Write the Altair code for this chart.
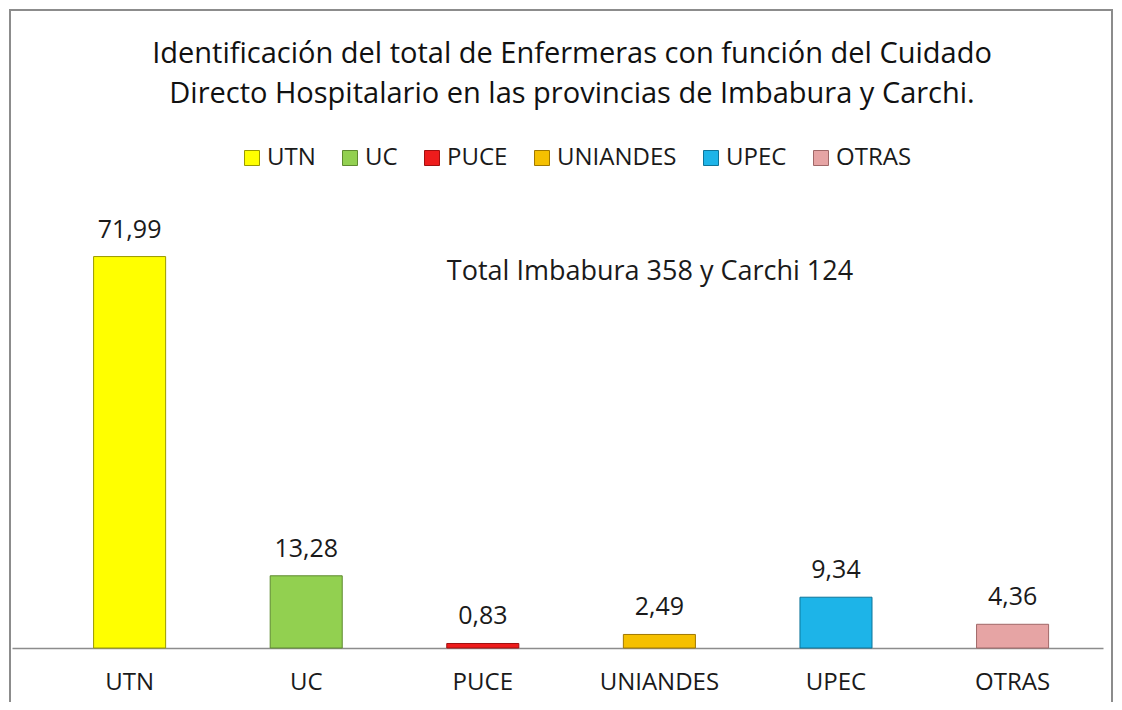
import altair as alt
import pandas as pd

categories = ["UTN", "UC", "PUCE", "UNIANDES", "UPEC", "OTRAS"]
values = [71.99, 13.28, 0.83, 2.49, 9.34, 4.36]
fill_colors = ["#FFFF00", "#92D050", "#EE1C1C", "#F5C000", "#1DB4E8", "#E6A4A4"]
stroke_colors = ["#9A9A00", "#5E8A30", "#A01010", "#A07800", "#0E7499", "#A06868"]
title_lines = [
    "Identificación del total de Enfermeras con función del Cuidado",
    "Directo Hospitalario en las provincias de Imbabura y Carchi.",
]
note_text = "Total Imbabura 358 y Carchi 124"

df = pd.DataFrame({"cat": categories, "val": values})
df["label"] = [f"{v:.2f}".replace(".", ",") for v in values]

FONT = "Open Sans"
W, H = 1091, 435

x_enc = alt.X(
    "cat:N",
    sort=categories,
    scale=alt.Scale(paddingInner=0.592, paddingOuter=0.385, align=0.6),
    axis=alt.Axis(
        title=None, labelAngle=0, ticks=False, labelFontSize=24, labelFont=FONT,
        labelColor="#1a1a1a", labelPadding=22, domainColor="#8c8c8c", domainWidth=1.5,
        grid=False,
    ),
)
y_enc = alt.Y("val:Q", scale=alt.Scale(domain=[0, 80], nice=False), axis=None)

base = alt.Chart(df)

bars = base.mark_bar(strokeWidth=1).encode(
    x=x_enc,
    y=y_enc,
    color=alt.Color(
        "cat:N",
        sort=categories,
        scale=alt.Scale(domain=categories, range=fill_colors),
        legend=alt.Legend(
            orient="none", legendX=228, legendY=-67, direction="horizontal", title=None,
            symbolType="square", symbolSize=225, labelFontSize=24, labelFont=FONT,
            labelColor="#1a1a1a", labelOffset=3, columnPadding=22,
            symbolStrokeWidth=1, symbolStrokeColor="#888888",
        ),
    ),
    stroke=alt.Stroke(
        "cat:N", sort=categories,
        scale=alt.Scale(domain=categories, range=stroke_colors), legend=None,
    ),
)

labels = base.mark_text(
    dy=-19, baseline="alphabetic", fontSize=25, font=FONT, color="#1a1a1a"
).encode(x=x_enc, y=y_enc, text="label:N")

one = alt.Chart(pd.DataFrame({"a": [0]}))

title = one.mark_text(
    text=title_lines, fontSize=29, font=FONT, color="#111111", lineHeight=40,
    baseline="alphabetic", align="center",
).encode(x=alt.value(560), y=alt.value(-150))

note = one.mark_text(
    text=note_text, fontSize=27, font=FONT, color="#1a1a1a",
    baseline="alphabetic", align="center",
).encode(x=alt.value(638), y=alt.value(67))

frame = one.mark_rect(fill="transparent", stroke="#8c8c8c", strokeWidth=2).encode(
    x=alt.value(-2), x2=alt.value(1100), y=alt.value(-203), y2=alt.value(495)
)

chart = alt.layer(frame, bars, labels, title, note).properties(
    width=W, height=H,
    autosize=alt.AutoSizeParams(type="none"),
    padding={"left": 4, "top": 205, "right": 11, "bottom": 54},
).configure_view(strokeWidth=0)

chart.save("out.html", embed_options={"renderer": "svg", "actions": False})
